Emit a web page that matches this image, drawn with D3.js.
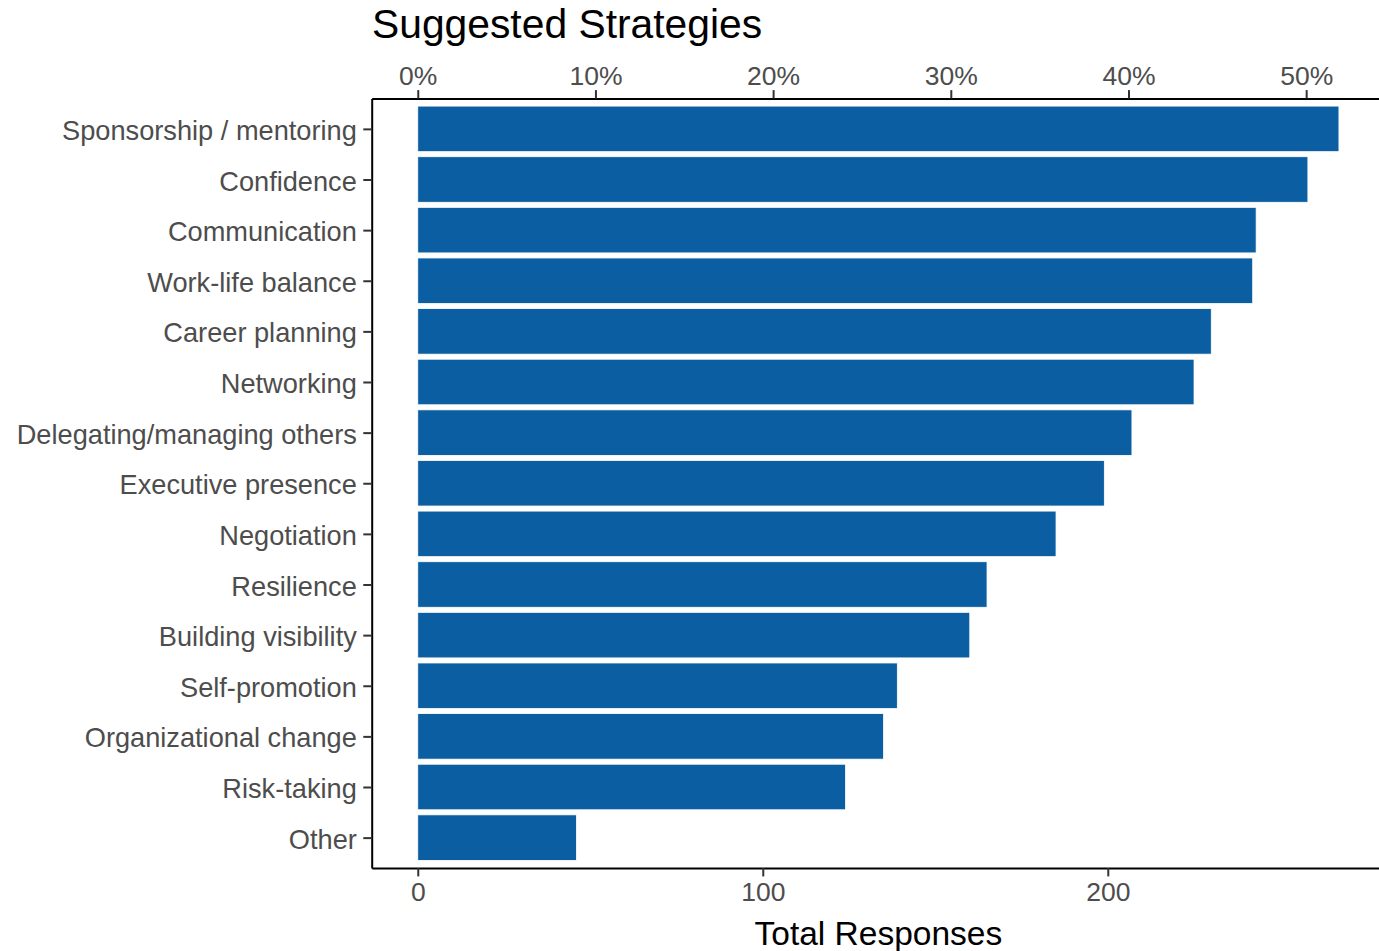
<!DOCTYPE html>
<html>
<head>
<meta charset="utf-8">
<script src="https://cdn.jsdelivr.net/npm/d3@7"></script>
<style>
  body { margin: 0; background: #fff; }
  text { font-family: "Liberation Sans", Arial, Helvetica, sans-serif; }
</style>
</head>
<body>
<div id="chart"></div>
<script>
// data
const strategies = ["Sponsorship / mentoring", "Confidence", "Communication", "Work-life balance",
  "Career planning", "Networking", "Delegating/managing others", "Executive presence",
  "Negotiation", "Resilience", "Building visibility", "Self-promotion",
  "Organizational change", "Risk-taking", "Other"];
const responses = [267, 258, 243, 242, 230, 225, 207, 199, 185, 165, 160, 139, 135, 124, 46];
const totalRespondents = 515;
const countTicks = [0, 100, 200];
const percentTicks = [0, 0.1, 0.2, 0.3, 0.4, 0.5];

const W = 1379, H = 951;
const panelLeft = 371.7, panelRight = 1385, panelTop = 98.5, panelBottom = 868;

const svg = d3.select("#chart").append("svg")
  .attr("width", W)
  .attr("height", H);

const maxVal = d3.max(responses);
const pad = maxVal * 0.05;
const x = d3.scaleLinear().domain([-pad, maxVal + pad]).range([panelLeft, panelRight]);
const y = d3.scalePoint().domain(strategies).range([panelTop, panelBottom]).padding(0.6);
const barH = y.step() * 0.9;

const rows = strategies.map((s, i) => ({ name: s, value: responses[i] }));

// bars
svg.append("g").selectAll("rect")
  .data(rows)
  .enter()
  .append("rect")
  .attr("x", x(0))
  .attr("y", d => y(d.name) - barH / 2)
  .attr("width", d => x(d.value) - x(0))
  .attr("height", barH)
  .attr("fill", "#0b5ea1")
  .attr("stroke", "#ffffff")
  .attr("stroke-width", 0.8);

const tickLen = 8.4;

// bottom axis
const xBottom = svg.append("g")
  .attr("transform", `translate(0,${panelBottom})`)
  .call(d3.axisBottom(x).tickValues(countTicks).tickSize(tickLen).tickSizeOuter(0).tickPadding(6));

// top axis in percent of respondents
const xPct = d3.scaleLinear()
  .domain(x.domain().map(v => v / totalRespondents))
  .range(x.range());
const xTop = svg.append("g")
  .attr("transform", `translate(0,${panelTop})`)
  .call(d3.axisTop(xPct).tickValues(percentTicks).tickFormat(d3.format(".0%"))
    .tickSize(tickLen).tickSizeOuter(0).tickPadding(5));

// left axis
const yLeft = svg.append("g")
  .attr("transform", `translate(${panelLeft},0)`)
  .call(d3.axisLeft(y).tickSize(tickLen).tickSizeOuter(0).tickPadding(6.5));

[xBottom, xTop, yLeft].forEach(g => {
  g.select(".domain").attr("stroke", "#000").attr("stroke-width", 2);
  g.selectAll(".tick line").attr("stroke", "#333333").attr("stroke-width", 2);
  g.selectAll(".tick text")
    .attr("fill", "#4d4d4d")
    .style("font-size", "26.5px")
    .style("font-family", "'Liberation Sans', Arial, sans-serif");
});
yLeft.selectAll(".tick text").style("font-size", "27.2px").attr("dy", "0.39em");

// titles
svg.append("text")
  .attr("x", 372)
  .attr("y", 38)
  .attr("fill", "#000")
  .style("font-size", "40.8px")
  .text("Suggested Strategies");

svg.append("text")
  .attr("x", (panelLeft + panelRight) / 2)
  .attr("y", 945)
  .attr("text-anchor", "middle")
  .attr("fill", "#000")
  .style("font-size", "33.5px")
  .text("Total Responses");
</script>
</body>
</html>
